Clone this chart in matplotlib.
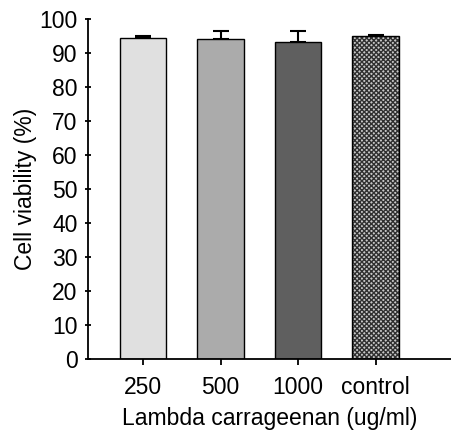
import numpy as np
import matplotlib.pyplot as plt

plt.rcParams['font.family'] = ['Liberation Sans', 'DejaVu Sans']

# values
groups = ['250', '500', '1000', 'control']
viability = [94.4, 94.1, 93.4, 95.2]
err_up = [0.8, 2.4, 3.2, 0.2]
colors = ['#e0e0e0', '#ababab', '#5f5f5f']

fig = plt.figure(figsize=(4.51, 4.37), dpi=100)
ax = fig.add_axes([0.195, 0.178, 0.805, 0.778])

x = np.arange(len(groups))
width = 0.6

# plain bars
ax.bar(x[:3], viability[:3], width, color=colors, edgecolor='black', linewidth=1.0, zorder=2)
# control bar: checkered fill, then an outline
ax.bar(x[3], viability[3], width, color='#c8c8c8', edgecolor='#303030', hatch='xxxxxxx', linewidth=0, zorder=2)
ax.bar(x[3], viability[3], width, color='none', edgecolor='black', linewidth=1.0, zorder=3)

# upper error bars only
ax.errorbar(x, viability, yerr=[np.zeros(len(x)), err_up], fmt='none', ecolor='black',
            elinewidth=1.5, capsize=6, capthick=1.5, zorder=1)

ax.set_xlim(-0.71, 3.97)
ax.set_ylim(0, 100)
ax.set_yticks(np.arange(0, 101, 10))
ax.set_xticks(x)
ax.set_xticklabels(groups)

ax.spines['top'].set_visible(False)
ax.spines['right'].set_visible(False)
ax.spines['left'].set_linewidth(1.3)
ax.spines['bottom'].set_linewidth(1.3)
ax.tick_params(axis='y', direction='inout', length=5, width=1.3, labelsize=16.5, pad=5)
ax.tick_params(axis='x', direction='out', length=4, width=1.3, labelsize=16.5, pad=8)

ax.set_ylabel('Cell viability (%)', fontsize=16.5, labelpad=2)
ax.set_xlabel('Lambda carrageenan (ug/ml)', fontsize=16.5, labelpad=6)

fig.savefig('out.png', dpi=100)
